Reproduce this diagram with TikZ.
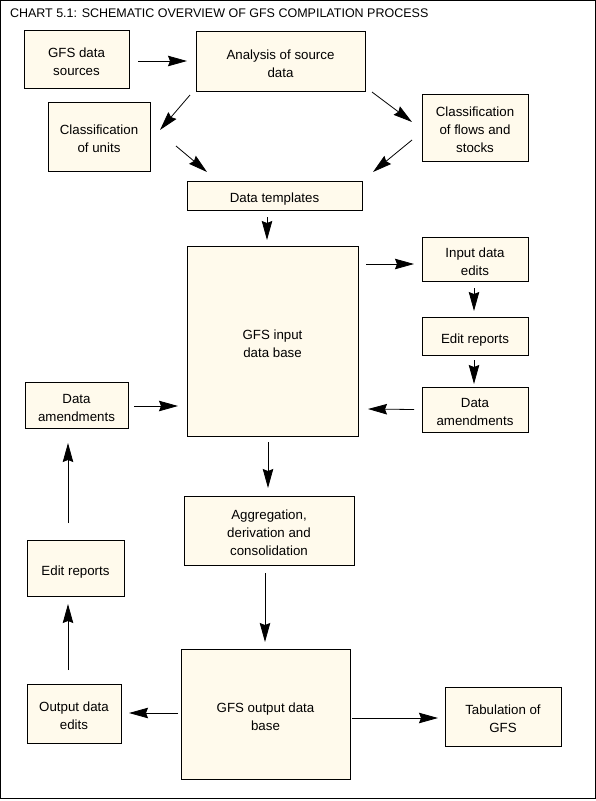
\documentclass[tikz,border=0pt]{standalone}
\usepackage{fontspec}
\setmainfont{Liberation Sans}
\usetikzlibrary{arrows.meta,calc}
\definecolor{boxfill}{RGB}{255,250,236}
\newcommand{\boxtext}[1]{\begin{tabular}{@{}c@{}}\noalign{\vskip7pt}#1\end{tabular}}
\begin{document}
\begin{tikzpicture}[x=1pt,y=-1pt,
  every node/.style={inner sep=0pt,outer sep=0pt},
  procbox/.style={draw=black,line width=0.8pt,fill=boxfill,
    font=\fontsize{13.3}{18}\selectfont},
  conn/.style={line width=0.8pt,-{Stealth[length=19pt,width=10.5pt,inset=2pt]}}]
\useasboundingbox (0,0) rectangle (596,801);
\draw[line width=0.9pt] (0.5,0.5) rectangle (595,798);
\node[anchor=base west,font=\fontsize{12.5}{14}\selectfont] (title) at (10,17) {CHART 5.1: SCHEMATIC OVERVIEW OF GFS COMPILATION PROCESS};
\node[procbox,minimum width=105pt,minimum height=58pt] (src) at (76.5,59) {\boxtext{GFS data\\sources}};
\node[procbox,minimum width=169pt,minimum height=60pt] (ana) at (280.5,61) {\boxtext{Analysis of source\\data}};
\node[procbox,minimum width=102pt,minimum height=69pt] (units) at (99,136.5) {\boxtext{Classification\\of units}};
\node[procbox,minimum width=106pt,minimum height=67pt] (flows) at (475,127.5) {\boxtext{Classification\\of flows and\\stocks}};
\node[procbox,minimum width=175pt,minimum height=29pt] (tmpl) at (274.5,195.5) {\boxtext{Data templates}};
\node[procbox,minimum width=171pt,minimum height=190pt] (indb) at (272.5,341) {\boxtext{GFS input\\data base}};
\node[procbox,minimum width=106pt,minimum height=44pt] (ied) at (475,259) {\boxtext{Input data\\edits}};
\node[procbox,minimum width=106pt,minimum height=38pt] (erR) at (475,336) {\boxtext{Edit reports}};
\node[procbox,minimum width=106pt,minimum height=45pt] (amR) at (475,409.5) {\boxtext{Data\\amendments}};
\node[procbox,minimum width=103pt,minimum height=46pt] (amL) at (76.5,405) {\boxtext{Data\\amendments}};
\node[procbox,minimum width=170pt,minimum height=69pt] (agg) at (269,530.5) {\boxtext{Aggregation,\\derivation and\\consolidation}};
\node[procbox,minimum width=97pt,minimum height=56pt] (erL) at (75.5,568) {\boxtext{Edit reports}};
\node[procbox,minimum width=169pt,minimum height=130pt] (outdb) at (265.5,714) {\boxtext{GFS output data\\base}};
\node[procbox,minimum width=94pt,minimum height=59pt] (oed) at (74,713.5) {\boxtext{Output data\\edits}};
\node[procbox,minimum width=116pt,minimum height=59pt] (tab) at (503,716.5) {\boxtext{Tabulation of\\GFS}};
% connectors
\draw[conn] ($(src.east)+(9,2)$) -- ($(ana.west)+(-9,0)$);
\draw[conn] ($(ana.south west)+(-6,4)$) -- ($(units.east)+(10,-6.5)$);
\draw[conn] ($(ana.south east)+(7,1)$) -- ($(flows.west)+(-10,-5.5)$);
\draw[conn] ($(units.south east)+(26,-25)$) -- ($(tmpl.north west)+(20,-9)$);
\draw[conn] ($(flows.south west)+(-10,-21)$) -- ($(tmpl.north east)+(11,-9)$);
\draw[conn] ($(tmpl.south)+(-7.5,7)$) -- ($(indb.north)+(-5.5,-6)$);
\draw[conn] ($(indb.north east)+(8,18)$) -- ($(ied.west)+(-8,5)$);
\draw[conn] ($(ied.south)+(-1,7)$) -- ($(erR.north)+(-1,-6)$);
\draw[conn] ($(erR.south)+(-1,5)$) -- ($(amR.north)+(-1,-3)$);
\draw[conn] ($(amR.west)+(-8,0)$) -- ($(indb.south east)+(10,-27)$);
\draw[conn] ($(amL.east)+(6,1)$) -- ($(indb.south west)+(-9,-30)$);
\draw[conn] ($(indb.south)+(-4.5,6)$) -- ($(agg.north)+(-1,-8)$);
\draw[conn] ($(agg.south)+(-4,8)$) -- ($(outdb.north)+(-0.5,-7)$);
\draw[conn] ($(outdb.west)+(-3,-1)$) -- ($(oed.east)+(8,-0.5)$);
\draw[conn] ($(oed.north)+(-6,-14)$) -- ($(erL.south)+(-7.5,8)$);
\draw[conn] ($(erL.north)+(-7.5,-17)$) -- ($(amL.south)+(-8.5,15)$);
\draw[conn] ($(outdb.east)+(2,4)$) -- ($(tab.west)+(-7,1.5)$);
\end{tikzpicture}
\end{document}
